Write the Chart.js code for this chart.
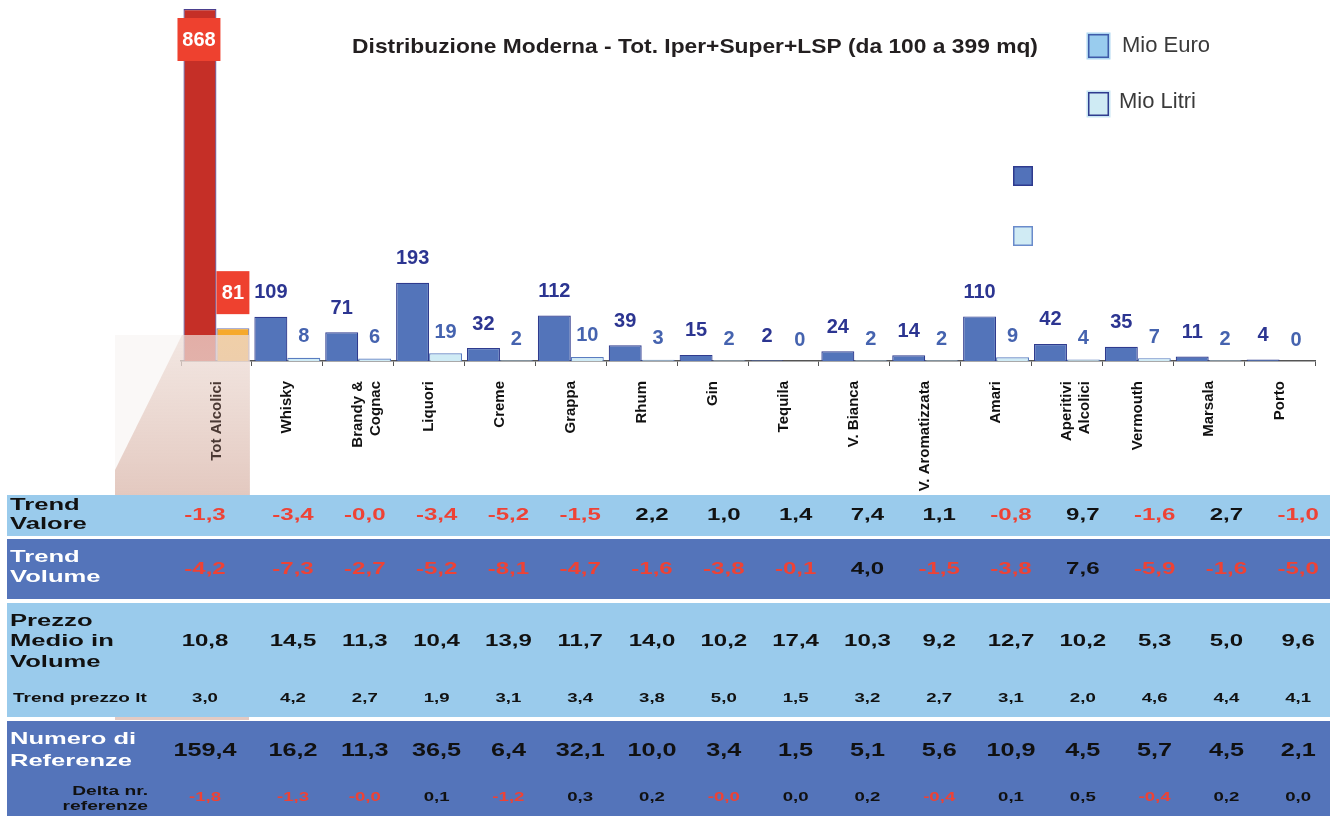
<!DOCTYPE html>
<html lang="it">
<head>
<meta charset="utf-8">
<title>Distribuzione Moderna - Alcolici</title>
<script src="https://cdn.jsdelivr.net/npm/chart.js@4.4.1/dist/chart.umd.min.js"></script>
<style>
  html, body { margin: 0; padding: 0; background: #ffffff; }
  #wrap { position: relative; width: 1335px; height: 816px; }
  canvas { display: block; }
</style>
</head>
<body>
<div id="wrap"><canvas id="chart" width="1335" height="816"></canvas></div>
<script>
// ---- data ----
const categories = [
  "Tot Alcolici", "Whisky", ["Brandy &", "Cognac"], "Liquori", "Creme", "Grappa", "Rhum", "Gin",
  "Tequila", "V. Bianca", "V. Aromatizzata", "Amari", ["Aperitivi", "Alcolici"], "Vermouth", "Marsala", "Porto"
];
const mioEuro  = [868, 109, 71, 193, 32, 112, 39, 15, 2, 24, 14, 110, 42, 35, 11, 4];
const mioLitri = [81, 8, 6, 19, 2, 10, 3, 2, 0, 2, 2, 9, 4, 7, 2, 0];

const trendValore   = ["-1,3", "-3,4", "-0,0", "-3,4", "-5,2", "-1,5", "2,2", "1,0", "1,4", "7,4", "1,1", "-0,8", "9,7", "-1,6", "2,7", "-1,0"];
const trendVolume   = ["-4,2", "-7,3", "-2,7", "-5,2", "-8,1", "-4,7", "-1,6", "-3,8", "-0,1", "4,0", "-1,5", "-3,8", "7,6", "-5,9", "-1,6", "-5,0"];
const prezzoMedio   = ["10,8", "14,5", "11,3", "10,4", "13,9", "11,7", "14,0", "10,2", "17,4", "10,3", "9,2", "12,7", "10,2", "5,3", "5,0", "9,6"];
const trendPrezzoLt = ["3,0", "4,2", "2,7", "1,9", "3,1", "3,4", "3,8", "5,0", "1,5", "3,2", "2,7", "3,1", "2,0", "4,6", "4,4", "4,1"];
const numReferenze  = ["159,4", "16,2", "11,3", "36,5", "6,4", "32,1", "10,0", "3,4", "1,5", "5,1", "5,6", "10,9", "4,5", "5,7", "4,5", "2,1"];
const deltaRef      = ["-1,8", "-1,3", "-0,0", "0,1", "-1,2", "0,3", "0,2", "-0,0", "0,0", "0,2", "-0,4", "0,1", "0,5", "-0,4", "0,2", "0,0"];

const titleText = "Distribuzione Moderna - Tot. Iper+Super+LSP (da 100 a 399 mq)";

// ---- styling ----
const FONT = '"Liberation Sans", Arial, Helvetica, sans-serif';
const RED_TXT = '#EE4235';
const LIGHT_ROW = '#9ACBEC';
const DARK_ROW = '#5474BA';

// text drawn with a horizontal stretch, as used in the figures table
function wideText(ctx, txt, x, y, o) {
  const size = o.size || 16, sx = o.sx || 1.5;
  ctx.save();
  ctx.font = `${o.weight || 'bold'} ${size}px ${FONT}`;
  ctx.fillStyle = o.color || '#111';
  ctx.textBaseline = 'middle';
  ctx.textAlign = o.align || 'center';
  ctx.translate(x, y);
  ctx.scale(sx, 1);
  ctx.fillText(txt, 0, 0);
  ctx.restore();
}

function swatch(ctx, x, y, w, h, fill, stroke, halo) {
  if (halo) { ctx.fillStyle = halo; ctx.fillRect(x - 1.5, y - 1.5, w + 3, h + 3); }
  ctx.fillStyle = fill;
  ctx.fillRect(x, y, w, h);
  ctx.strokeStyle = stroke;
  ctx.lineWidth = 1.5;
  ctx.strokeRect(x + 0.75, y + 0.75, w - 1.5, h - 1.5);
}

// value labels above the bars, boxed labels on the total column,
// plus the soft highlight under the total column
const barDecor = {
  id: 'barDecor',
  afterDatasetsDraw(chart) {
    const ctx = chart.ctx;
    const xs = chart.scales.x;
    const area = chart.chartArea;

    // highlight beam below the total column
    const right = (xs.getPixelForValue(0) + xs.getPixelForValue(1)) / 2 - 2;
    const top = area.bottom - 26;
    const bottom = 495;
    const left = 115;
    ctx.save();
    ctx.fillStyle = 'rgba(246,242,240,0.55)';
    ctx.fillRect(left, top, right - left, bottom - top);
    const g = ctx.createLinearGradient(0, top, 0, bottom);
    g.addColorStop(0, 'rgba(230,204,194,0.4)');
    g.addColorStop(1, 'rgba(224,194,184,0.88)');
    ctx.fillStyle = g;
    ctx.beginPath();
    ctx.moveTo(area.left + 1, top);
    ctx.lineTo(right, top);
    ctx.lineTo(right, bottom);
    ctx.lineTo(left, bottom);
    ctx.lineTo(left, bottom - 25);
    ctx.closePath();
    ctx.fill();
    ctx.restore();

    chart.data.datasets.forEach((ds, di) => {
      const meta = chart.getDatasetMeta(di);
      meta.data.forEach((bar, i) => {
        const v = ds.data[i];
        ctx.save();
        ctx.font = `bold 20px ${FONT}`;
        ctx.textAlign = 'center';
        ctx.textBaseline = 'middle';
        if (i === 0) {
          const w = di === 0 ? bar.width + 10 : bar.width;
          const bx = bar.x - w / 2 - (di === 0 ? 1 : 0);
          const by = di === 0 ? bar.y + 9 : bar.y - 57;
          ctx.fillStyle = '#EE412F';
          ctx.fillRect(bx, by, w, 43);
          ctx.fillStyle = '#ffffff';
          ctx.fillText(String(v), bx + w / 2, by + 22);
        } else {
          ctx.fillStyle = di === 0 ? '#2C3591' : '#4563AF';
          ctx.fillText(String(v), bar.x, bar.y - (di === 0 ? 24 : 21));
        }
        ctx.restore();
      });
    });
  }
};

// title, legend and the figures table
const pageDecor = {
  id: 'pageDecor',
  afterDraw(chart) {
    const ctx = chart.ctx;

    // title
    wideText(ctx, titleText, 695, 47, { size: 21, sx: 1.085, color: '#231F20' });

    // legend
    swatch(ctx, 1088, 34, 21, 24, '#99CCEE', '#3E5BA9', '#AFD7F1');
    swatch(ctx, 1088, 92, 21, 24, '#CFEBF4', '#2F3C8F', '#C8E6F3');
    swatch(ctx, 1013, 166, 20, 20, '#5272BA', '#2E3A8E');
    swatch(ctx, 1013, 226, 20, 20, '#D0EBF4', '#6A8BCB');
    ctx.save();
    ctx.font = `22px ${FONT}`;
    ctx.fillStyle = '#3A3A3A';
    ctx.textBaseline = 'middle';
    ctx.textAlign = 'left';
    ctx.fillText('Mio Euro', 1122, 46);
    ctx.fillText('Mio Litri', 1119, 102);
    ctx.restore();

    // table background bands
    const tL = 7, tR = 1330;
    ctx.save();
    ctx.fillStyle = LIGHT_ROW; ctx.fillRect(tL, 495, tR - tL, 41);
    ctx.fillStyle = DARK_ROW;  ctx.fillRect(tL, 539, tR - tL, 60);
    ctx.fillStyle = LIGHT_ROW; ctx.fillRect(tL, 603, tR - tL, 114);
    ctx.fillStyle = DARK_ROW;  ctx.fillRect(tL, 721, tR - tL, 95);
    ctx.fillStyle = 'rgba(224,196,188,0.9)'; ctx.fillRect(115, 717, 134, 3);
    ctx.restore();

    // row headings
    wideText(ctx, 'Trend', 10, 506, { size: 16, sx: 1.6, align: 'left' });
    wideText(ctx, 'Valore', 10, 525, { size: 16, sx: 1.6, align: 'left' });
    wideText(ctx, 'Trend', 10, 558, { size: 16, sx: 1.6, align: 'left', color: '#ffffff' });
    wideText(ctx, 'Volume', 10, 578, { size: 16, sx: 1.6, align: 'left', color: '#ffffff' });
    wideText(ctx, 'Prezzo', 10, 622, { size: 16, sx: 1.6, align: 'left' });
    wideText(ctx, 'Medio in', 10, 642, { size: 16, sx: 1.6, align: 'left' });
    wideText(ctx, 'Volume', 10, 663, { size: 16, sx: 1.6, align: 'left' });
    wideText(ctx, 'Trend prezzo lt', 13, 699, { size: 12, sx: 1.58, align: 'left' });
    wideText(ctx, 'Numero di', 10, 739, { size: 17, sx: 1.5, align: 'left', color: '#ffffff' });
    wideText(ctx, 'Referenze', 10, 761, { size: 17, sx: 1.5, align: 'left', color: '#ffffff' });
    wideText(ctx, 'Delta nr.', 148, 792, { size: 12, sx: 1.6, align: 'right' });
    wideText(ctx, 'referenze', 148, 807, { size: 12, sx: 1.6, align: 'right' });

    // column centres of the figures table
    const colX = i => (i === 0 ? 205 : 293 + 71.8 * (i - 1));
    const colour = s => (s.charAt(0) === '-' ? RED_TXT : '#111111');
    categories.forEach((c, i) => {
      const x = colX(i);
      wideText(ctx, trendValore[i], x, 516, { size: 16, sx: 1.5, color: colour(trendValore[i]) });
      wideText(ctx, trendVolume[i], x, 570, { size: 16, sx: 1.5, color: colour(trendVolume[i]) });
      wideText(ctx, prezzoMedio[i], x, 642, { size: 16, sx: 1.5 });
      wideText(ctx, trendPrezzoLt[i], x, 699, { size: 12, sx: 1.55 });
      wideText(ctx, numReferenze[i], x, 751, { size: 18, sx: 1.4 });
      wideText(ctx, deltaRef[i], x, 798, { size: 12, sx: 1.55, color: colour(deltaRef[i]) });
    });
  }
};

const ctx = document.getElementById('chart').getContext('2d');
new Chart(ctx, {
  type: 'bar',
  data: {
    labels: categories,
    datasets: [
      {
        label: 'Mio Euro',
        data: mioEuro,
        backgroundColor: c => (c.dataIndex === 0 ? '#C52F27' : '#5374BA'),
        borderColor: c => (c.dataIndex === 0 ? '#4B3F8E' : '#2F3B8E'),
        borderWidth: 1.2,
        categoryPercentage: 0.93,
        barPercentage: 1.0
      },
      {
        label: 'Mio Litri',
        data: mioLitri,
        backgroundColor: c => (c.dataIndex === 0 ? '#F6A92B' : '#CFEBF5'),
        borderColor: c => (c.dataIndex === 0 ? '#6E76B4' : '#5A7CC0'),
        borderWidth: 1.2,
        categoryPercentage: 0.93,
        barPercentage: 1.0
      }
    ]
  },
  options: {
    responsive: false,
    animation: false,
    events: [],
    layout: { padding: { left: 181, right: 20, top: 9, bottom: 315 } },
    plugins: {
      legend: { display: false },
      tooltip: { enabled: false },
      title: { display: false }
    },
    scales: {
      x: {
        grid: { display: true, drawOnChartArea: false, drawTicks: true, tickLength: 5, color: '#555555', offset: true },
        border: { display: true, color: '#555555', width: 1.5 },
        ticks: {
          z: 1,
          autoSkip: false,
          maxRotation: 90,
          minRotation: 90,
          padding: 15,
          color: c => (c.index === 0 ? '#4A3833' : '#111111'),
          font: { family: FONT, size: 15, weight: 'bold' }
        },
        afterFit(scale) { scale.height = 140; }
      },
      y: {
        display: false,
        min: 0,
        max: Math.max(...mioEuro)
      }
    }
  },
  plugins: [barDecor, pageDecor]
});
</script>
</body>
</html>
